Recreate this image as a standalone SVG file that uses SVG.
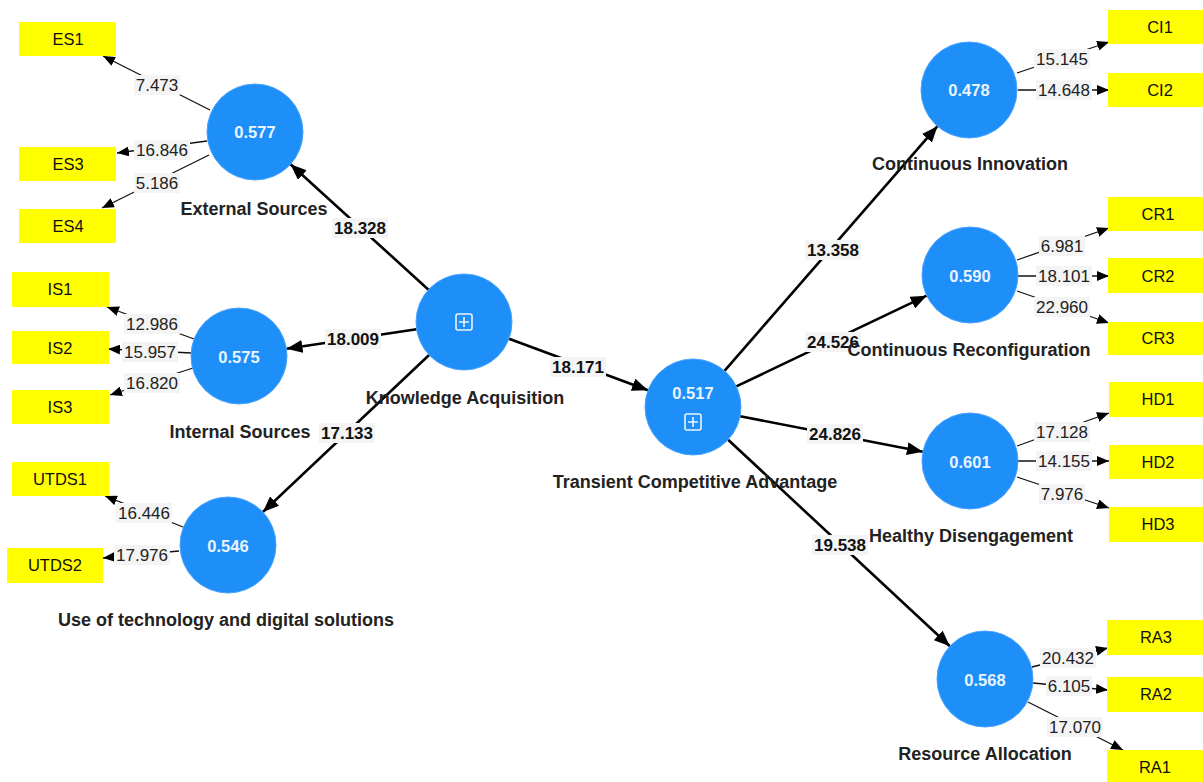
<svg xmlns="http://www.w3.org/2000/svg" width="1203" height="782" viewBox="0 0 1203 782">
<style>
.bg{fill:#ffffff}
.lv{fill:#1e8ff8;stroke:#4aa3ff;stroke-width:1}
.val{font-family:"Liberation Sans",Arial,sans-serif;font-size:16.5px;font-weight:bold;fill:#eaf4ff;text-anchor:middle}
.name{font-family:"Liberation Sans",Arial,sans-serif;font-size:18px;font-weight:bold;fill:#222222;text-anchor:middle}
.ind{fill:#ffff00}
.indt{font-family:"Liberation Sans",Arial,sans-serif;font-size:16.5px;fill:#111111;text-anchor:middle}
.path{stroke:#000000;stroke-width:2.6;fill:none;marker-end:url(#big)}
.load{stroke:#111111;stroke-width:1.3;fill:none;marker-end:url(#small)}
.lbg{fill:#f4f4f4}
.pl{font-family:"Liberation Sans",Arial,sans-serif;font-size:17px;font-weight:bold;fill:#111111;text-anchor:middle}
.ll{font-family:"Liberation Sans",Arial,sans-serif;font-size:17px;fill:#222222;text-anchor:middle}
.icon{fill:none;stroke:#eaf4ff;stroke-width:1.6}
</style>
<defs>
<marker id="big" viewBox="0 0 16 13" refX="16" refY="6.5" markerWidth="16" markerHeight="13" markerUnits="userSpaceOnUse" orient="auto"><path d="M0,0 L16,6.5 L0,13 z" fill="#000"/></marker>
<marker id="small" viewBox="0 0 12 10" refX="12" refY="5" markerWidth="12" markerHeight="10" markerUnits="userSpaceOnUse" orient="auto"><path d="M0,0 L12,5 L0,10 z" fill="#000"/></marker>
</defs>
<rect class="bg" x="0" y="0" width="1203" height="782"/>

<g id="connectors">
<line class="path" x1="428.5" y1="289.7" x2="290.5" y2="164.3"/>
<line class="path" x1="416.5" y1="329.2" x2="286.5" y2="348.8"/>
<line class="path" x1="429.1" y1="355" x2="262.9" y2="512"/>
<line class="path" x1="509" y1="338.7" x2="648" y2="390.3"/>
<line class="path" x1="724.5" y1="370.8" x2="937.5" y2="126.2"/>
<line class="path" x1="736.3" y1="386.4" x2="926.7" y2="295.7"/>
<line class="path" x1="740.1" y1="416.2" x2="922.9" y2="451.8"/>
<line class="path" x1="728.1" y1="439.7" x2="949.9" y2="646.3"/>
<line class="load" x1="210" y1="110" x2="103" y2="56"/>
<line class="load" x1="207" y1="141" x2="117" y2="153"/>
<line class="load" x1="209" y1="155" x2="102" y2="208"/>
<line class="load" x1="194" y1="339" x2="107" y2="307"/>
<line class="load" x1="192" y1="353" x2="108" y2="349"/>
<line class="load" x1="193" y1="368" x2="110" y2="395"/>
<line class="load" x1="183" y1="527" x2="105" y2="496"/>
<line class="load" x1="179" y1="551" x2="103" y2="558"/>
<line class="load" x1="1017" y1="73" x2="1109" y2="42"/>
<line class="load" x1="1018" y1="90" x2="1109" y2="90"/>
<line class="load" x1="1017" y1="260" x2="1109" y2="228"/>
<line class="load" x1="1018" y1="276" x2="1109" y2="276"/>
<line class="load" x1="1017" y1="291" x2="1109" y2="323"/>
<line class="load" x1="1017" y1="446" x2="1109" y2="413"/>
<line class="load" x1="1018" y1="461" x2="1109" y2="461"/>
<line class="load" x1="1017" y1="477" x2="1109" y2="508"/>
<line class="load" x1="1032" y1="667" x2="1108" y2="648"/>
<line class="load" x1="1033" y1="683" x2="1108" y2="690"/>
<line class="load" x1="1028" y1="702" x2="1123" y2="750"/>

<rect class="lbg" x="332" y="218" width="56" height="20"/><text class="pl" x="360" y="234">18.328</text>
<rect class="lbg" x="325" y="329" width="56" height="20"/><text class="pl" x="353" y="345">18.009</text>
<rect class="lbg" x="319" y="423" width="56" height="20"/><text class="pl" x="347" y="439">17.133</text>
<rect class="lbg" x="550" y="357" width="56" height="20"/><text class="pl" x="578" y="373">18.171</text>
<rect class="lbg" x="805" y="240" width="56" height="20"/><text class="pl" x="833" y="256">13.358</text>
<rect class="lbg" x="805" y="332" width="56" height="20"/><text class="pl" x="833" y="348">24.526</text>
<rect class="lbg" x="807" y="424" width="56" height="20"/><text class="pl" x="835" y="440">24.826</text>
<rect class="lbg" x="812" y="535" width="56" height="20"/><text class="pl" x="840" y="551">19.538</text>

<rect class="lbg" x="134" y="75" width="46" height="20"/><text class="ll" x="157" y="91">7.473</text>
<rect class="lbg" x="134" y="140" width="56" height="20"/><text class="ll" x="162" y="156">16.846</text>
<rect class="lbg" x="134" y="173" width="46" height="20"/><text class="ll" x="157" y="189">5.186</text>
<rect class="lbg" x="124" y="314" width="56" height="20"/><text class="ll" x="152" y="330">12.986</text>
<rect class="lbg" x="122" y="342" width="56" height="20"/><text class="ll" x="150" y="358">15.957</text>
<rect class="lbg" x="124" y="373" width="56" height="20"/><text class="ll" x="152" y="389">16.820</text>
<rect class="lbg" x="116" y="503" width="56" height="20"/><text class="ll" x="144" y="519">16.446</text>
<rect class="lbg" x="114" y="545" width="56" height="20"/><text class="ll" x="142" y="561">17.976</text>
<rect class="lbg" x="1034" y="49" width="56" height="20"/><text class="ll" x="1062" y="65">15.145</text>
<rect class="lbg" x="1036" y="80" width="56" height="20"/><text class="ll" x="1064" y="96">14.648</text>
<rect class="lbg" x="1039" y="236" width="46" height="20"/><text class="ll" x="1062" y="252">6.981</text>
<rect class="lbg" x="1036" y="266" width="56" height="20"/><text class="ll" x="1064" y="282">18.101</text>
<rect class="lbg" x="1034" y="297" width="56" height="20"/><text class="ll" x="1062" y="313">22.960</text>
<rect class="lbg" x="1034" y="422" width="56" height="20"/><text class="ll" x="1062" y="438">17.128</text>
<rect class="lbg" x="1036" y="451" width="56" height="20"/><text class="ll" x="1064" y="467">14.155</text>
<rect class="lbg" x="1039" y="484" width="46" height="20"/><text class="ll" x="1062" y="500">7.976</text>
<rect class="lbg" x="1040" y="648" width="56" height="20"/><text class="ll" x="1068" y="664">20.432</text>
<rect class="lbg" x="1046" y="676" width="46" height="20"/><text class="ll" x="1069" y="692">6.105</text>
<rect class="lbg" x="1047" y="717" width="56" height="20"/><text class="ll" x="1075" y="733">17.070</text>
</g>

<g id="ES1"><rect class="ind" x="19" y="22" width="97" height="34"/><text class="indt" x="68" y="45">ES1</text></g>
<g id="ES3"><rect class="ind" x="19" y="147" width="97" height="34"/><text class="indt" x="68" y="170">ES3</text></g>
<g id="ES4"><rect class="ind" x="19" y="209" width="97" height="34"/><text class="indt" x="68" y="232">ES4</text></g>
<g id="IS1"><rect class="ind" x="12" y="272" width="97" height="35"/><text class="indt" x="60" y="295">IS1</text></g>
<g id="IS2"><rect class="ind" x="12" y="331" width="97" height="33"/><text class="indt" x="60" y="354">IS2</text></g>
<g id="IS3"><rect class="ind" x="12" y="390" width="97" height="34"/><text class="indt" x="60" y="413">IS3</text></g>
<g id="UTDS1"><rect class="ind" x="12" y="462" width="97" height="34"/><text class="indt" x="60" y="485">UTDS1</text></g>
<g id="UTDS2"><rect class="ind" x="7" y="548" width="96" height="35"/><text class="indt" x="55" y="571">UTDS2</text></g>
<g id="CI1"><rect class="ind" x="1108" y="10" width="95" height="34"/><text class="indt" x="1160" y="33">CI1</text></g>
<g id="CI2"><rect class="ind" x="1108" y="73" width="95" height="34"/><text class="indt" x="1160" y="96">CI2</text></g>
<g id="CR1"><rect class="ind" x="1108" y="197" width="95" height="34"/><text class="indt" x="1158" y="220">CR1</text></g>
<g id="CR2"><rect class="ind" x="1108" y="258" width="95" height="35"/><text class="indt" x="1158" y="282">CR2</text></g>
<g id="CR3"><rect class="ind" x="1108" y="322" width="95" height="33"/><text class="indt" x="1158" y="344">CR3</text></g>
<g id="HD1"><rect class="ind" x="1109" y="382" width="94" height="35"/><text class="indt" x="1158" y="405">HD1</text></g>
<g id="HD2"><rect class="ind" x="1109" y="445" width="94" height="34"/><text class="indt" x="1158" y="468">HD2</text></g>
<g id="HD3"><rect class="ind" x="1109" y="507" width="94" height="35"/><text class="indt" x="1158" y="530">HD3</text></g>
<g id="RA3"><rect class="ind" x="1107" y="620" width="96" height="35"/><text class="indt" x="1156" y="643">RA3</text></g>
<g id="RA2"><rect class="ind" x="1107" y="677" width="96" height="35"/><text class="indt" x="1156" y="700">RA2</text></g>
<g id="RA1"><rect class="ind" x="1107" y="750" width="96" height="35"/><text class="indt" x="1155" y="773">RA1</text></g>

<g id="ExternalSources"><circle class="lv" cx="255" cy="132" r="48"/><text class="val" x="255" y="138">0.577</text><text class="name" x="254" y="215">External Sources</text></g>
<g id="InternalSources"><circle class="lv" cx="239" cy="356" r="48"/><text class="val" x="239" y="363">0.575</text><text class="name" x="240" y="438">Internal Sources</text></g>
<g id="UseOfTechnology"><circle class="lv" cx="228" cy="545" r="48"/><text class="val" x="228" y="552">0.546</text><text class="name" x="226" y="626">Use of technology and digital solutions</text></g>
<g id="KnowledgeAcquisition"><circle class="lv" cx="464" cy="322" r="48"/><rect class="icon" x="456" y="314" width="16" height="16" rx="2"/><path class="icon" d="M464,317 V327 M459,322 H469"/><text class="name" x="465" y="404">Knowledge Acquisition</text></g>
<g id="TransientCompetitiveAdvantage"><circle class="lv" cx="693" cy="407" r="48"/><text class="val" x="693" y="399">0.517</text><rect class="icon" x="685" y="414" width="16" height="16" rx="2"/><path class="icon" d="M693,417 V427 M688,422 H698"/><text class="name" x="695" y="488">Transient Competitive Advantage</text></g>
<g id="ContinuousInnovation"><circle class="lv" cx="969" cy="90" r="48"/><text class="val" x="969" y="96">0.478</text><text class="name" x="970" y="170">Continuous Innovation</text></g>
<g id="ContinuousReconfiguration"><circle class="lv" cx="970" cy="275" r="48"/><text class="val" x="970" y="282">0.590</text><text class="name" x="969" y="356">Continuous Reconfiguration</text></g>
<g id="HealthyDisengagement"><circle class="lv" cx="970" cy="461" r="48"/><text class="val" x="970" y="468">0.601</text><text class="name" x="971" y="542">Healthy Disengagement</text></g>
<g id="ResourceAllocation"><circle class="lv" cx="985" cy="679" r="48"/><text class="val" x="985" y="686">0.568</text><text class="name" x="985" y="760">Resource Allocation</text></g>
</svg>
